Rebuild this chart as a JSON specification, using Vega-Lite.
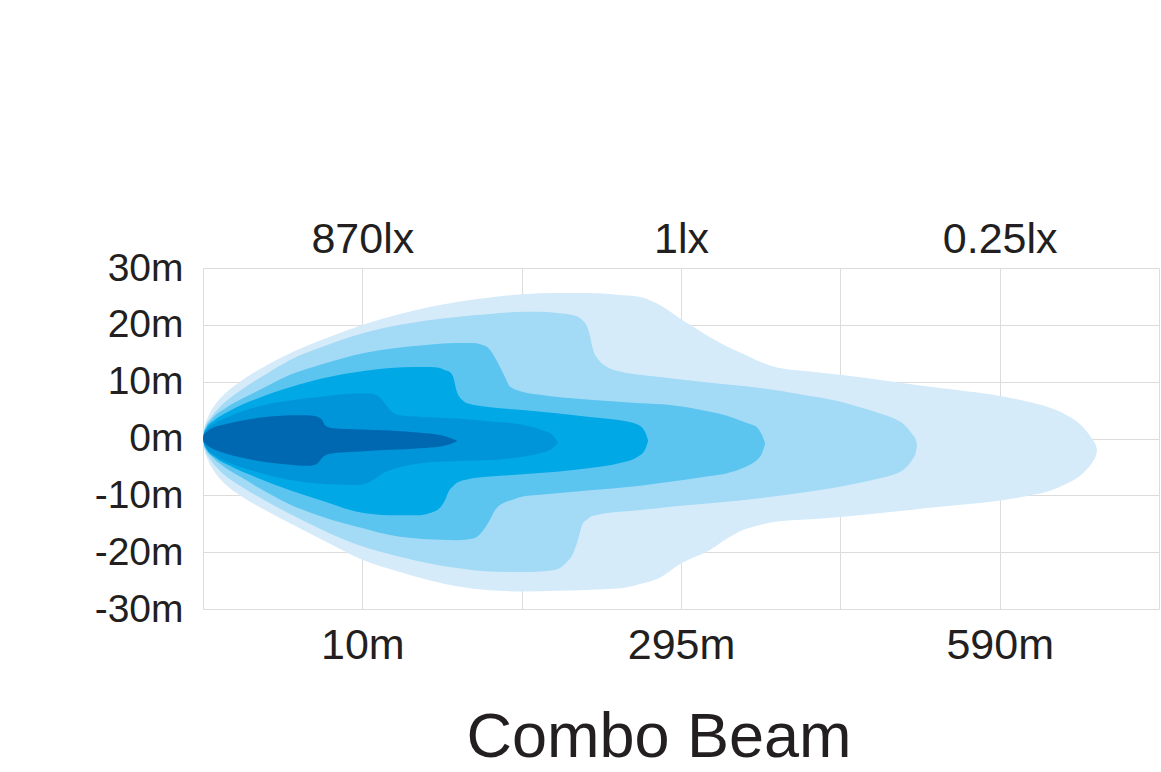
{
  "$schema": "https://vega.github.io/schema/vega-lite/v6.json",
  "width": 956,
  "height": 341,
  "autosize": {"type": "none"},
  "padding": {"left": 203, "top": 268, "right": 2, "bottom": 163},
  "background": "white",
  "config": {
    "view": {"stroke": null},
    "axis": {"labelFont": "Liberation Sans", "labelColor": "#231f20", "gridColor": "#dcdcdc", "gridWidth": 1, "ticks": false, "domain": false, "title": null}
  },
  "title": {"text": "Combo Beam", "orient": "bottom", "anchor": "middle", "fontSize": 63, "fontWeight": "normal", "font": "Liberation Sans", "color": "#231f20", "offset": 40, "dx": -22},
  "data": {"values": [
    {"level": 6, "x": 0, "top": 0, "bottom": 0},
    {"level": 6, "x": 0.006, "top": 1.5, "bottom": -1.5},
    {"level": 6, "x": 0.013, "top": 2.4, "bottom": -2.4},
    {"level": 6, "x": 0.031, "top": 3.8, "bottom": -3.8},
    {"level": 6, "x": 0.075, "top": 5.9, "bottom": -6.0},
    {"level": 6, "x": 0.138, "top": 7.9, "bottom": -8.0},
    {"level": 6, "x": 0.232, "top": 10.0, "bottom": -10.0},
    {"level": 6, "x": 0.389, "top": 12.7, "bottom": -12.6},
    {"level": 6, "x": 0.546, "top": 15, "bottom": -14.9},
    {"level": 6, "x": 0.797, "top": 17.9, "bottom": -18.5},
    {"level": 6, "x": 1.004, "top": 20, "bottom": -21.4},
    {"level": 6, "x": 1.236, "top": 21.9, "bottom": -23.5},
    {"level": 6, "x": 1.594, "top": 24, "bottom": -26},
    {"level": 6, "x": 1.801, "top": 24.8, "bottom": -26.7},
    {"level": 6, "x": 2.008, "top": 25.4, "bottom": -26.9},
    {"level": 6, "x": 2.222, "top": 25.6, "bottom": -26.8},
    {"level": 6, "x": 2.429, "top": 25.6, "bottom": -26.6},
    {"level": 6, "x": 2.636, "top": 25.2, "bottom": -26.3},
    {"level": 6, "x": 2.743, "top": 24.9, "bottom": -25.6},
    {"level": 6, "x": 2.868, "top": 23.5, "bottom": -24.5},
    {"level": 6, "x": 3.0, "top": 21, "bottom": -22},
    {"level": 6, "x": 3.075, "top": 19.7, "bottom": -21},
    {"level": 6, "x": 3.182, "top": 17.8, "bottom": -19.6},
    {"level": 6, "x": 3.289, "top": 16.2, "bottom": -17.6},
    {"level": 6, "x": 3.389, "top": 14.9, "bottom": -16.1},
    {"level": 6, "x": 3.496, "top": 13.5, "bottom": -15.2},
    {"level": 6, "x": 3.603, "top": 12.5, "bottom": -14.6},
    {"level": 6, "x": 3.81, "top": 11.8, "bottom": -14.2},
    {"level": 6, "x": 3.998, "top": 11.2, "bottom": -13.8},
    {"level": 6, "x": 4.331, "top": 10, "bottom": -12.9},
    {"level": 6, "x": 4.626, "top": 8.9, "bottom": -12},
    {"level": 6, "x": 4.958, "top": 7.7, "bottom": -11.1},
    {"level": 6, "x": 5.172, "top": 6.5, "bottom": -10.1},
    {"level": 6, "x": 5.316, "top": 5.4, "bottom": -9.2},
    {"level": 6, "x": 5.416, "top": 4.2, "bottom": -8.0},
    {"level": 6, "x": 5.492, "top": 2.8, "bottom": -6.8},
    {"level": 6, "x": 5.548, "top": 1.2, "bottom": -5.4},
    {"level": 6, "x": 5.586, "top": -0.3, "bottom": -4.0},
    {"level": 6, "x": 5.605, "top": -1.3, "bottom": -2.9},
    {"level": 6, "x": 5.611, "top": -2.0, "bottom": -2.1},

    {"level": 5, "x": 0, "top": 0, "bottom": 0},
    {"level": 5, "x": 0.006, "top": 1.3, "bottom": -1.3},
    {"level": 5, "x": 0.013, "top": 2, "bottom": -2},
    {"level": 5, "x": 0.044, "top": 3.5, "bottom": -3.6},
    {"level": 5, "x": 0.107, "top": 5.6, "bottom": -5.7},
    {"level": 5, "x": 0.232, "top": 8.4, "bottom": -8.3},
    {"level": 5, "x": 0.389, "top": 11.2, "bottom": -10.9},
    {"level": 5, "x": 0.546, "top": 13.8, "bottom": -13.3},
    {"level": 5, "x": 0.766, "top": 16.3, "bottom": -16.3},
    {"level": 5, "x": 1.004, "top": 18.5, "bottom": -19},
    {"level": 5, "x": 1.236, "top": 20, "bottom": -20.8},
    {"level": 5, "x": 1.594, "top": 21.4, "bottom": -22.8},
    {"level": 5, "x": 1.801, "top": 21.9, "bottom": -23.4},
    {"level": 5, "x": 2.008, "top": 22.3, "bottom": -23.5},
    {"level": 5, "x": 2.115, "top": 22.3, "bottom": -23.4},
    {"level": 5, "x": 2.222, "top": 22.1, "bottom": -23},
    {"level": 5, "x": 2.285, "top": 21.9, "bottom": -21.7},
    {"level": 5, "x": 2.322, "top": 21.7, "bottom": -20.3},
    {"level": 5, "x": 2.347, "top": 21.5, "bottom": -18.4},
    {"level": 5, "x": 2.385, "top": 20.7, "bottom": -14.9},
    {"level": 5, "x": 2.41, "top": 19.7, "bottom": -14.3},
    {"level": 5, "x": 2.429, "top": 18, "bottom": -13.8},
    {"level": 5, "x": 2.448, "top": 15.6, "bottom": -13.6},
    {"level": 5, "x": 2.479, "top": 14, "bottom": -13.4},
    {"level": 5, "x": 2.536, "top": 12.6, "bottom": -13.1},
    {"level": 5, "x": 2.617, "top": 11.8, "bottom": -12.9},
    {"level": 5, "x": 2.743, "top": 11.2, "bottom": -12.6},
    {"level": 5, "x": 2.931, "top": 10.6, "bottom": -12},
    {"level": 5, "x": 3.182, "top": 9.8, "bottom": -11.4},
    {"level": 5, "x": 3.496, "top": 8.9, "bottom": -10.5},
    {"level": 5, "x": 3.747, "top": 7.8, "bottom": -9.6},
    {"level": 5, "x": 3.998, "top": 6.5, "bottom": -8.5},
    {"level": 5, "x": 4.124, "top": 5.5, "bottom": -7.8},
    {"level": 5, "x": 4.249, "top": 4.4, "bottom": -7},
    {"level": 5, "x": 4.331, "top": 3.6, "bottom": -6.4},
    {"level": 5, "x": 4.406, "top": 2.3, "bottom": -5.3},
    {"level": 5, "x": 4.45, "top": 0.8, "bottom": -3.8},
    {"level": 5, "x": 4.475, "top": -0.3, "bottom": -2.3},
    {"level": 5, "x": 4.481, "top": -1.1, "bottom": -1.2},

    {"level": 4, "x": 0, "top": 0, "bottom": 0},
    {"level": 4, "x": 0.006, "top": 1.1, "bottom": -1.0},
    {"level": 4, "x": 0.019, "top": 2, "bottom": -1.9},
    {"level": 4, "x": 0.063, "top": 3.7, "bottom": -3.4},
    {"level": 4, "x": 0.138, "top": 5.3, "bottom": -5.1},
    {"level": 4, "x": 0.232, "top": 6.8, "bottom": -6.7},
    {"level": 4, "x": 0.339, "top": 8.3, "bottom": -8.5},
    {"level": 4, "x": 0.546, "top": 11.2, "bottom": -11.6},
    {"level": 4, "x": 0.753, "top": 13.1, "bottom": -13.8},
    {"level": 4, "x": 1.004, "top": 15, "bottom": -15.8},
    {"level": 4, "x": 1.174, "top": 15.8, "bottom": -17},
    {"level": 4, "x": 1.381, "top": 16.4, "bottom": -17.7},
    {"level": 4, "x": 1.594, "top": 16.8, "bottom": -17.9},
    {"level": 4, "x": 1.695, "top": 16.8, "bottom": -17.6},
    {"level": 4, "x": 1.739, "top": 16.6, "bottom": -16.8},
    {"level": 4, "x": 1.77, "top": 16.3, "bottom": -15.7},
    {"level": 4, "x": 1.801, "top": 15.6, "bottom": -14.3},
    {"level": 4, "x": 1.833, "top": 14.2, "bottom": -12.6},
    {"level": 4, "x": 1.864, "top": 12.6, "bottom": -11.7},
    {"level": 4, "x": 1.895, "top": 10.8, "bottom": -11.2},
    {"level": 4, "x": 1.927, "top": 9.1, "bottom": -10.9},
    {"level": 4, "x": 2.008, "top": 8.2, "bottom": -10.2},
    {"level": 4, "x": 2.115, "top": 7.7, "bottom": -9.9},
    {"level": 4, "x": 2.429, "top": 6.8, "bottom": -9.1},
    {"level": 4, "x": 2.743, "top": 6.2, "bottom": -8.3},
    {"level": 4, "x": 2.931, "top": 5.9, "bottom": -7.6},
    {"level": 4, "x": 3.182, "top": 4.7, "bottom": -6.6},
    {"level": 4, "x": 3.289, "top": 4, "bottom": -6.1},
    {"level": 4, "x": 3.389, "top": 3, "bottom": -5.2},
    {"level": 4, "x": 3.446, "top": 2.4, "bottom": -4.4},
    {"level": 4, "x": 3.477, "top": 2, "bottom": -3.8},
    {"level": 4, "x": 3.508, "top": 0.6, "bottom": -2.6},
    {"level": 4, "x": 3.527, "top": -0.7, "bottom": -1.0},

    {"level": 3, "x": 0, "top": 0, "bottom": 0},
    {"level": 3, "x": 0.006, "top": 0.9, "bottom": -0.9},
    {"level": 3, "x": 0.019, "top": 1.7, "bottom": -1.7},
    {"level": 3, "x": 0.075, "top": 3.3, "bottom": -3.3},
    {"level": 3, "x": 0.169, "top": 4.9, "bottom": -4.8},
    {"level": 3, "x": 0.339, "top": 7.0, "bottom": -6.9},
    {"level": 3, "x": 0.546, "top": 9, "bottom": -9.1},
    {"level": 3, "x": 0.753, "top": 10.6, "bottom": -11},
    {"level": 3, "x": 0.967, "top": 11.7, "bottom": -12.9},
    {"level": 3, "x": 1.174, "top": 12.4, "bottom": -13.5},
    {"level": 3, "x": 1.343, "top": 12.6, "bottom": -13.5},
    {"level": 3, "x": 1.425, "top": 12.6, "bottom": -13.1},
    {"level": 3, "x": 1.487, "top": 12.4, "bottom": -12.2},
    {"level": 3, "x": 1.519, "top": 12, "bottom": -10.8},
    {"level": 3, "x": 1.544, "top": 11.8, "bottom": -9.2},
    {"level": 3, "x": 1.569, "top": 10.9, "bottom": -8.4},
    {"level": 3, "x": 1.594, "top": 8.2, "bottom": -7.8},
    {"level": 3, "x": 1.626, "top": 6.8, "bottom": -7.4},
    {"level": 3, "x": 1.657, "top": 6.2, "bottom": -7.2},
    {"level": 3, "x": 1.801, "top": 5.5, "bottom": -6.7},
    {"level": 3, "x": 2.008, "top": 5, "bottom": -6.3},
    {"level": 3, "x": 2.429, "top": 3.8, "bottom": -5.2},
    {"level": 3, "x": 2.617, "top": 3.2, "bottom": -4.3},
    {"level": 3, "x": 2.724, "top": 2.5, "bottom": -3.3},
    {"level": 3, "x": 2.774, "top": 1.2, "bottom": -2.0},
    {"level": 3, "x": 2.793, "top": -0.3, "bottom": -0.5},

    {"level": 2, "x": 0, "top": 0, "bottom": 0},
    {"level": 2, "x": 0.006, "top": 0.8, "bottom": -0.9},
    {"level": 2, "x": 0.019, "top": 1.4, "bottom": -1.6},
    {"level": 2, "x": 0.075, "top": 2.7, "bottom": -3},
    {"level": 2, "x": 0.126, "top": 3.4, "bottom": -3.8},
    {"level": 2, "x": 0.339, "top": 5.6, "bottom": -5.9},
    {"level": 2, "x": 0.546, "top": 6.7, "bottom": -7.3},
    {"level": 2, "x": 0.753, "top": 7.4, "bottom": -8},
    {"level": 2, "x": 0.967, "top": 7.9, "bottom": -8.2},
    {"level": 2, "x": 1.048, "top": 7.9, "bottom": -7.6},
    {"level": 2, "x": 1.092, "top": 7.6, "bottom": -6.8},
    {"level": 2, "x": 1.13, "top": 6.6, "bottom": -6.1},
    {"level": 2, "x": 1.174, "top": 5, "bottom": -5.6},
    {"level": 2, "x": 1.218, "top": 4.2, "bottom": -5.2},
    {"level": 2, "x": 1.381, "top": 3.8, "bottom": -4.3},
    {"level": 2, "x": 1.594, "top": 3.5, "bottom": -4},
    {"level": 2, "x": 1.801, "top": 3, "bottom": -3.8},
    {"level": 2, "x": 2.008, "top": 2.4, "bottom": -3.2},
    {"level": 2, "x": 2.115, "top": 1.6, "bottom": -2.6},
    {"level": 2, "x": 2.19, "top": 0.7, "bottom": -1.8},
    {"level": 2, "x": 2.228, "top": -0.7, "bottom": -0.8},

    {"level": 1, "x": 0, "top": 0, "bottom": 0},
    {"level": 1, "x": 0.006, "top": 0.7, "bottom": -0.6},
    {"level": 1, "x": 0.019, "top": 1.1, "bottom": -1.0},
    {"level": 1, "x": 0.056, "top": 1.8, "bottom": -1.7},
    {"level": 1, "x": 0.126, "top": 2.4, "bottom": -2.5},
    {"level": 1, "x": 0.232, "top": 3.1, "bottom": -3.3},
    {"level": 1, "x": 0.339, "top": 3.6, "bottom": -3.9},
    {"level": 1, "x": 0.439, "top": 3.9, "bottom": -4.3},
    {"level": 1, "x": 0.546, "top": 4.1, "bottom": -4.6},
    {"level": 1, "x": 0.653, "top": 4.1, "bottom": -4.8},
    {"level": 1, "x": 0.69, "top": 4, "bottom": -4.7},
    {"level": 1, "x": 0.722, "top": 3.8, "bottom": -4.3},
    {"level": 1, "x": 0.747, "top": 3.3, "bottom": -3.4},
    {"level": 1, "x": 0.766, "top": 2.3, "bottom": -3.0},
    {"level": 1, "x": 0.816, "top": 1.8, "bottom": -2.6},
    {"level": 1, "x": 0.985, "top": 1.6, "bottom": -2.3},
    {"level": 1, "x": 1.174, "top": 1.4, "bottom": -2},
    {"level": 1, "x": 1.362, "top": 1, "bottom": -1.7},
    {"level": 1, "x": 1.487, "top": 0.6, "bottom": -1.4},
    {"level": 1, "x": 1.55, "top": 0.1, "bottom": -1.0},
    {"level": 1, "x": 1.594, "top": -0.4, "bottom": -0.5}
  ]},
  "layer": [
    {
      "layer": [
        {
          "transform": [{"filter": "datum.level == 6"}],
          "mark": {"type": "area", "color": "#d5ebfa", "interpolate": "monotone", "opacity": 1},
          "encoding": {
            "x": {"field": "x", "type": "quantitative", "scale": {"domain": [0, 6], "nice": false, "zero": false},
                  "axis": {"values": [0, 1, 2, 3, 4, 5, 6], "labelExpr": "datum.value == 1 ? '10m' : datum.value == 3 ? '295m' : datum.value == 5 ? '590m' : ''", "grid": true, "labelFontSize": 43, "labelPadding": 15, "labelOverlap": false, "labelFlush": false}},
            "y": {"field": "top", "type": "quantitative", "stack": null, "scale": {"domain": [-30, 30], "nice": false, "zero": false},
                  "axis": {"values": [-30, -20, -10, 0, 10, 20, 30], "labelExpr": "datum.value + 'm'", "grid": true, "labelFontSize": 39, "labelPadding": 20}},
            "y2": {"field": "bottom"}
          }
        },
        {
          "transform": [{"filter": "datum.level == 5"}],
          "mark": {"type": "area", "color": "#a3daf5", "interpolate": "monotone", "opacity": 1},
          "encoding": {
            "x": {"field": "x", "type": "quantitative"},
            "y": {"field": "top", "type": "quantitative", "stack": null},
            "y2": {"field": "bottom"}
          }
        },
        {
          "transform": [{"filter": "datum.level == 4"}],
          "mark": {"type": "area", "color": "#5bc5f0", "interpolate": "monotone", "opacity": 1},
          "encoding": {
            "x": {"field": "x", "type": "quantitative"},
            "y": {"field": "top", "type": "quantitative", "stack": null},
            "y2": {"field": "bottom"}
          }
        },
        {
          "transform": [{"filter": "datum.level == 3"}],
          "mark": {"type": "area", "color": "#00a8e6", "interpolate": "monotone", "opacity": 1},
          "encoding": {
            "x": {"field": "x", "type": "quantitative"},
            "y": {"field": "top", "type": "quantitative", "stack": null},
            "y2": {"field": "bottom"}
          }
        },
        {
          "transform": [{"filter": "datum.level == 2"}],
          "mark": {"type": "area", "color": "#0095d9", "interpolate": "monotone", "opacity": 1},
          "encoding": {
            "x": {"field": "x", "type": "quantitative"},
            "y": {"field": "top", "type": "quantitative", "stack": null},
            "y2": {"field": "bottom"}
          }
        }
      ]
    },
    {
      "transform": [{"filter": "datum.level == 1"}],
      "mark": {"type": "area", "color": "#0067b1", "interpolate": "monotone", "opacity": 1},
      "encoding": {
        "x": {"field": "x", "type": "quantitative",
              "axis": {"orient": "top", "values": [1, 3, 5], "labelExpr": "datum.value == 1 ? '870lx' : datum.value == 3 ? '1lx' : datum.value == 5 ? '0.25lx' : ''", "grid": false, "labelFontSize": 43, "labelPadding": 7, "labelOverlap": false, "labelFlush": false}},
        "y": {"field": "top", "type": "quantitative", "stack": null},
        "y2": {"field": "bottom"}
      }
    }
  ],
  "resolve": {"axis": {"x": "independent"}}
}
